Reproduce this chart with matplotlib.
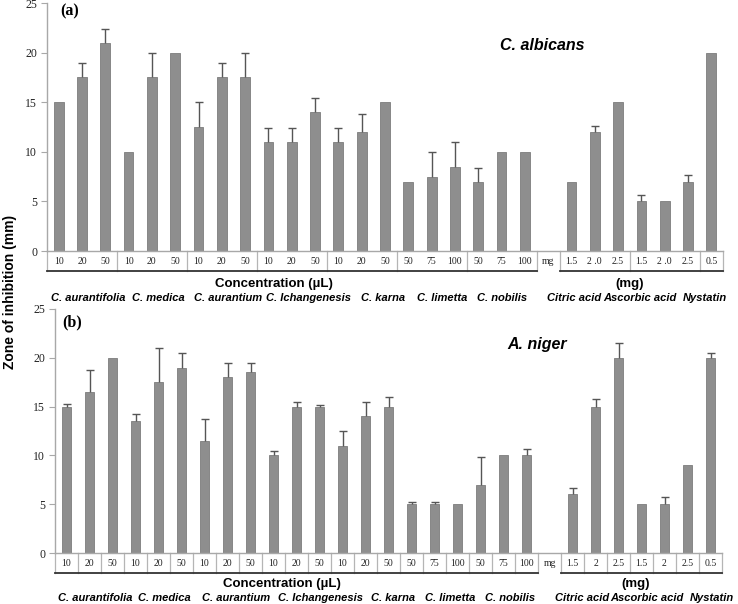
import matplotlib
matplotlib.use('Agg')
import matplotlib.pyplot as plt
import numpy as np

W, H = 738, 604
fig = plt.figure(figsize=(W / 100, H / 100), dpi=100)

# ---------------- data ----------------
species = ['C. aurantifolia', 'C. medica', 'C. aurantium', 'C. Ichangenesis',
           'C. karna', 'C. limetta', 'C. nobilis']
references = ['Citric acid', 'Ascorbic acid', 'Nystatin']

citrus_doses = ['10', '20', '50', '10', '20', '50', '10', '20', '50', '10', '20', '50',
                '10', '20', '50', '50', '75', '100', '50', '75', '100']
ref_doses_a = ['1.5', '2 .0', '2.5', '1.5', '2 .0', '2.5', '0.5']
ref_doses_b = ['1.5', '2', '2.5', '1.5', '2', '2.5', '0.5']
ref_group_sizes = [3, 3, 1]

albicans_citrus = [15, 17.5, 21, 10, 17.5, 20, 12.5, 17.5, 17.5, 11, 11, 14,
                   11, 12, 15, 7, 7.5, 8.5, 7, 10, 10]
albicans_citrus_err = [0, 1.5, 1.4, 0, 2.5, 0, 2.5, 1.5, 2.5, 1.4, 1.4, 1.4,
                       1.4, 1.8, 0, 0, 2.5, 2.5, 1.4, 0, 0]
albicans_ref = [7, 12, 15, 5, 5, 7, 20]
albicans_ref_err = [0, 0.6, 0, 0.6, 0, 0.7, 0]

niger_citrus = [15, 16.5, 20, 13.5, 17.5, 19, 11.5, 18, 18.5, 10, 15, 15,
                11, 14, 15, 5, 5, 5, 7, 10, 10]
niger_citrus_err = [0.3, 2.2, 0, 0.7, 3.5, 1.5, 2.2, 1.5, 1.0, 0.5, 0.5, 0.2,
                    1.5, 1.5, 1.0, 0.2, 0.2, 0, 2.8, 0, 0.7]
niger_ref = [6, 15, 20, 5, 5, 9, 20]
niger_ref_err = [0.7, 0.8, 1.5, 0, 0.7, 0, 0.5]

# ---------------- style ----------------
BAR = '#8e8e8e'
BAR_EDGE = '#7c7c7c'
ERR = '#555555'
AX_GRAY = '#a8a8a8'
SEP_GRAY = '#b5b5b5'
SERIF = 'Liberation Serif'
SANS = 'Liberation Sans'


def px_axes(left, top, right, bottom):
    return fig.add_axes([left / W, 1 - bottom / H, (right - left) / W, (bottom - top) / H])


def fig_text(x, y, s, **kw):
    fig.text(x / W, 1 - y / H, s, **kw)


def draw_panel(ax, cv, ce, rv, re, ref_labels, every_cell, title, letter,
               title_xy, letter_xy, label_xs, label_y, conc_xy, mg_xy):
    n_c = len(cv)
    mg_pos = n_c
    cx = np.arange(n_c)
    rx = np.arange(n_c + 1, n_c + 1 + len(rv))
    xs = np.concatenate([cx, rx])
    vals = np.array(cv + rv, dtype=float)
    errs = np.array(ce + re, dtype=float)

    ax.bar(xs, vals, width=0.42, color=BAR, edgecolor=BAR_EDGE, linewidth=0.6, zorder=2)
    m = errs > 0
    _, caps, _ = ax.errorbar(xs[m], vals[m], yerr=[np.zeros(m.sum()), errs[m]],
                             fmt='none', ecolor=ERR, elinewidth=1.0, capsize=3,
                             capthick=1.0, zorder=3)
    if len(caps) == 2:
        caps[0].set_visible(False)

    ax.set_xlim(-0.5, xs.max() + 0.5)
    ax.set_ylim(0, 25)
    ax.set_yticks(np.arange(0, 26, 5))
    ax.set_xticks([])
    for s in ['top', 'right']:
        ax.spines[s].set_visible(False)
    for s in ['left', 'bottom']:
        ax.spines[s].set_color(AX_GRAY)
        ax.spines[s].set_linewidth(1.0)
    ax.tick_params(axis='y', length=4, width=0.8, color=AX_GRAY, pad=3,
                   labelsize=8.5, labelcolor='#222222')
    for t in ax.get_yticklabels():
        t.set_fontfamily(SERIF)

    # ---- table under axis ----
    trans = ax.get_xaxis_transform()
    ax_h = ax.get_position().height * H
    cb = -20.0 / ax_h
    cm = -10.0 / ax_h
    labels = citrus_doses + ['mg'] + ref_labels
    for i, lab in enumerate(labels):
        ax.text(i, cm, lab, transform=trans, ha='center', va='center',
                fontsize=7, family=SERIF, color='#222222')

    if every_cell:
        bounds = list(np.arange(-0.5, xs.max() + 1, 1.0))
    else:
        bounds = list(np.arange(-0.5, n_c, 3.0))
        b = mg_pos + 0.5
        bounds.append(b)
        for g in ref_group_sizes:
            b += g
            bounds.append(b)
    for b in bounds:
        ax.plot([b, b], [0, cb], transform=trans, clip_on=False,
                color=SEP_GRAY, lw=0.9, zorder=1)
    ax.plot([-0.5, mg_pos - 0.5], [cb, cb], transform=trans, clip_on=False,
            color='#333333', lw=1.3)
    ax.plot([mg_pos + 0.5, xs.max() + 0.5], [cb, cb], transform=trans, clip_on=False,
            color='#333333', lw=1.3)

    # ---- text ----
    fig_text(*title_xy, title, ha='center', va='center', fontsize=11.5,
             fontweight='bold', fontstyle='italic', family=SANS)
    fig_text(*letter_xy, letter, ha='left', va='center', fontsize=11.5,
             fontweight='bold', family=SERIF)
    for name, x in zip(species + references, label_xs):
        fig_text(x, label_y, name, ha='center', va='center', fontsize=8,
                 fontweight='bold', fontstyle='italic', family=SANS)
    fig_text(*conc_xy, 'Concentration (µL)', ha='center', va='center',
             fontsize=9.5, fontweight='bold', family=SANS)
    fig_text(*mg_xy, '(mg)', ha='center', va='center',
             fontsize=9.5, fontweight='bold', family=SANS)


ax1 = px_axes(47, 3, 723, 251)
draw_panel(ax1, albicans_citrus, albicans_citrus_err, albicans_ref, albicans_ref_err,
           ref_doses_a, False, 'C. albicans', '(a)',
           (542, 45), (60, 11),
           [88, 158, 228, 309, 383, 442, 502, 574, 640, 705], 298,
           (274, 284), (630, 284))

ax2 = px_axes(55, 309, 722, 553)
draw_panel(ax2, niger_citrus, niger_citrus_err, niger_ref, niger_ref_err,
           ref_doses_b, True, 'A. niger', '(b)',
           (537, 345), (62, 322),
           [95, 164, 236, 320, 393, 450, 510, 582, 647, 712], 598,
           (282, 584), (636, 584))

fig_text(10, 292, 'Zone of inhibition (mm)', rotation=90, ha='center', va='center',
         fontsize=10, fontweight='bold', family=SANS)

fig.savefig('out.png', dpi=100)
